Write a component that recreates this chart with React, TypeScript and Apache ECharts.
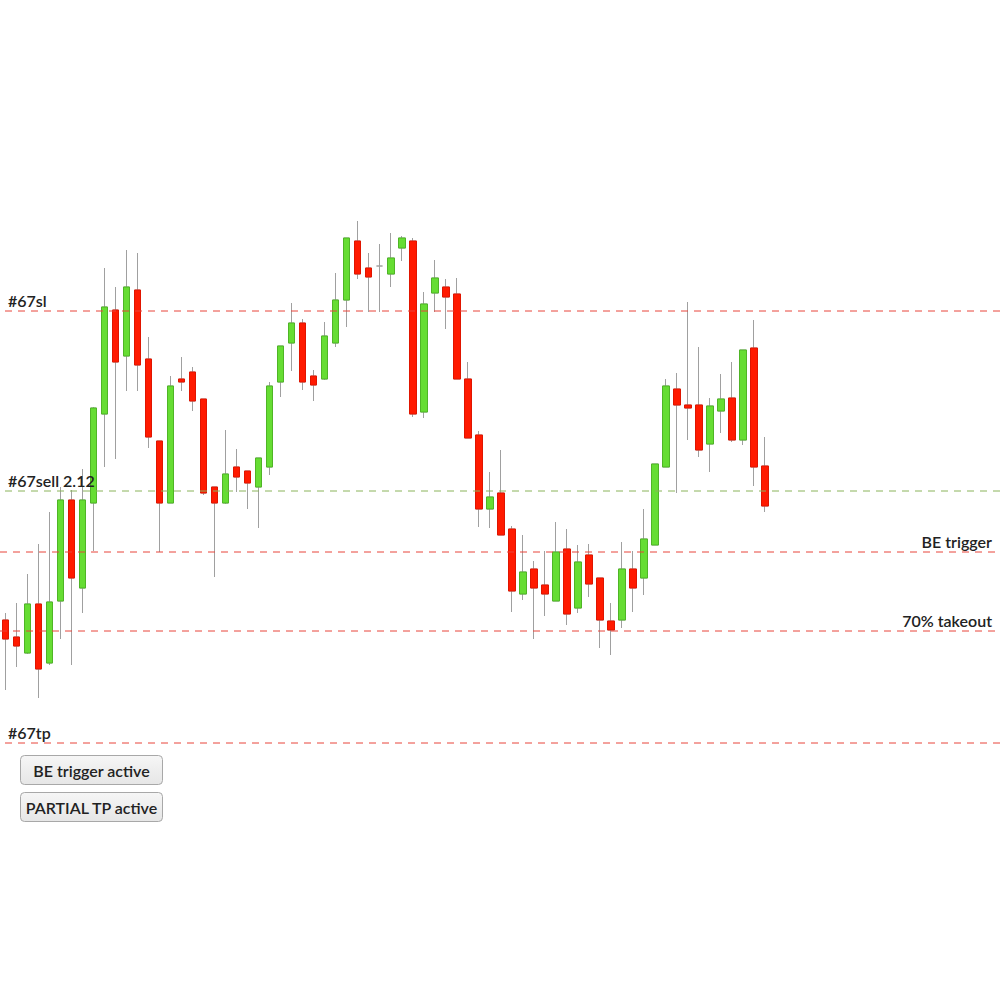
import React, { useEffect, useRef } from "react";
import * as echarts from "echarts";

// OHLC values (price units)
const opens = [
  1.991, 1.974, 1.958, 2.007, 1.948, 2.010, 2.111, 2.023, 2.108, 2.197,
  2.301, 2.255, 2.321, 2.252, 2.170, 2.108, 2.232, 2.239, 2.212, 2.124,
  2.108, 2.144, 2.140, 2.124, 2.144, 2.229, 2.268, 2.288, 2.235, 2.232,
  2.268, 2.311, 2.370, 2.343, 2.345, 2.337, 2.363, 2.370, 2.199, 2.318,
  2.324, 2.317, 2.232, 2.176, 2.102, 2.118, 2.082, 2.017, 2.042, 2.026,
  2.010, 2.062, 2.003, 2.056, 2.033, 1.990, 1.991, 2.042, 2.033, 2.066,
  2.144, 2.222, 2.206, 2.206, 2.167, 2.200, 2.213, 2.171, 2.263, 2.145,
];
const closes = [
  1.972, 1.965, 2.007, 1.942, 2.009, 2.111, 2.033, 2.111, 2.203, 2.304,
  2.249, 2.324, 2.246, 2.174, 2.108, 2.225, 2.229, 2.210, 2.118, 2.108,
  2.137, 2.134, 2.128, 2.153, 2.225, 2.265, 2.288, 2.229, 2.226, 2.275,
  2.311, 2.373, 2.337, 2.334, 2.345, 2.353, 2.373, 2.197, 2.307, 2.333,
  2.314, 2.232, 2.173, 2.102, 2.114, 2.076, 2.020, 2.039, 2.023, 2.017,
  2.059, 1.997, 2.049, 2.027, 1.991, 1.981, 2.042, 2.023, 2.072, 2.147,
  2.225, 2.206, 2.203, 2.161, 2.205, 2.212, 2.171, 2.261, 2.144, 2.105,
];
const lows = [
  1.921, 1.944, 1.957, 1.913, 1.946, 1.972, 1.946, 1.998, 2.060, 2.144,
  2.152, 2.220, 2.220, 2.163, 2.059, 2.108, 2.220, 2.200, 2.116, 2.034,
  2.107, 2.119, 2.102, 2.083, 2.136, 2.214, 2.240, 2.221, 2.210, 2.231,
  2.264, 2.284, 2.332, 2.299, 2.299, 2.324, 2.350, 2.194, 2.193, 2.299,
  2.282, 2.232, 2.173, 2.084, 2.083, 2.076, 1.999, 2.011, 1.972, 1.995,
  2.010, 1.986, 1.998, 2.014, 1.963, 1.956, 1.983, 1.999, 2.016, 2.066,
  2.144, 2.118, 2.171, 2.154, 2.139, 2.178, 2.169, 2.166, 2.125, 2.099,
];
const highs = [
  1.998, 2.008, 2.037, 2.067, 2.099, 2.124, 2.121, 2.142, 2.204, 2.343,
  2.324, 2.361, 2.358, 2.274, 2.170, 2.235, 2.254, 2.244, 2.212, 2.124,
  2.181, 2.162, 2.140, 2.153, 2.229, 2.265, 2.308, 2.292, 2.241, 2.289,
  2.338, 2.373, 2.390, 2.358, 2.367, 2.378, 2.375, 2.373, 2.319, 2.351,
  2.332, 2.333, 2.249, 2.180, 2.139, 2.161, 2.085, 2.076, 2.050, 2.060,
  2.089, 2.082, 2.066, 2.067, 2.033, 2.008, 2.069, 2.060, 2.102, 2.147,
  2.232, 2.238, 2.309, 2.264, 2.213, 2.237, 2.249, 2.261, 2.291, 2.174,
];

// Order levels
const levelNames = ["#67sl", "#67sell 2.12", "BE trigger", "70% takeout", "#67tp"];
const levelValues = [2.3, 2.12, 2.059, 1.98, 1.868];
const levelSides = ["start", "start", "end", "end", "start"];
const levelKinds = ["stop", "entry", "stop", "stop", "stop"];

const buttonLabels = ["BE trigger active", "PARTIAL TP active"];

const Y_MIN = 1.611;
const Y_MAX = 2.611;

export default function App() {
  const ref = useRef<HTMLDivElement>(null);

  useEffect(() => {
    if (!ref.current) return;
    const chart = echarts.init(ref.current, null, { renderer: "svg" });
    const categories = opens.map((_, i) => String(i + 1));
    const fullData = opens.map((o, i) => [o, closes[i], lows[i], highs[i]]);
    const bodyData = opens.map((o, i) =>
      o === closes[i]
        ? "-"
        : [o, closes[i], Math.min(o, closes[i]), Math.max(o, closes[i])]
    );

    const font = "Lato, 'Noto Sans', sans-serif";
    const colorFor = (kind: string) => (kind === "entry" ? "#8ab35a" : "#e8443a");

    // dashed level lines spanning the full-width grid; the caption sits at the
    // line's last point, so left-captioned lines are listed right-to-left
    const levelLineSeries = levelValues.map((v, i) => {
      const atStart = levelSides[i] === "start";
      const color = colorFor(levelKinds[i]);
      return {
        type: "line",
        xAxisIndex: 1,
        yAxisIndex: 1,
        data: atStart
          ? [
              [1, v],
              [0, v],
            ]
          : [
              [0, v],
              [1, v],
            ],
        symbol: "none",
        silent: true,
        z: 5,
        color,
        itemStyle: { color },
        lineStyle: { color, type: [7, 6], width: 1 },
        endLabel: {
          show: true,
          formatter: levelNames[i],
          distance: 0,
          align: atStart ? "left" : "right",
          verticalAlign: "bottom",
          offset: atStart ? [8, -3] : [-8, -3],
          color: "#222",
          fontSize: 16,
          fontWeight: 600,
          fontFamily: font,
        },
      };
    });

    const buttons = buttonLabels.map((txt, i) => ({
      type: "group",
      left: 20,
      top: 755 + i * 37,
      children: [
        {
          type: "rect",
          shape: { x: 0.5, y: 0.5, width: 142, height: 29, r: 4 },
          style: {
            fill: new echarts.graphic.LinearGradient(0, 0, 0, 1, [
              { offset: 0, color: "#f6f6f6" },
              { offset: 1, color: "#e6e6e6" },
            ]),
            stroke: "#a8a8a8",
            lineWidth: 1,
          },
        },
        {
          type: "text",
          x: 71.5,
          y: 15.5,
          style: {
            text: txt,
            fill: "#222",
            font: `600 16px ${font}`,
            align: "center",
            verticalAlign: "middle",
          },
        },
      ],
    }));

    chart.setOption({
      animation: false,
      backgroundColor: "#ffffff",
      grid: [
        { left: -2.5, width: 773, top: 0, height: 1000 },
        { left: 0, right: 0, top: 0, height: 1000 },
      ],
      xAxis: [
        { type: "category", data: categories, gridIndex: 0, show: false, boundaryGap: true },
        { type: "value", gridIndex: 1, min: 0, max: 1, show: false },
      ],
      yAxis: [
        { type: "value", gridIndex: 0, min: Y_MIN, max: Y_MAX, show: false, scale: true },
        { type: "value", gridIndex: 1, min: Y_MIN, max: Y_MAX, show: false, scale: true },
      ],
      series: [
        {
          type: "candlestick",
          xAxisIndex: 0,
          yAxisIndex: 0,
          data: fullData,
          barWidth: 7,
          itemStyle: {
            color: "#a0a0a0",
            color0: "#a0a0a0",
            borderColor: "#a0a0a0",
            borderColor0: "#a0a0a0",
            borderWidth: 1,
          },
          z: 2,
        },
        {
          type: "candlestick",
          xAxisIndex: 0,
          yAxisIndex: 0,
          data: bodyData,
          barWidth: 7,
          itemStyle: {
            color: "#66dd33",
            color0: "#ff1a00",
            borderColor: "#4fb526",
            borderColor0: "#e01500",
            borderWidth: 1,
          },
          z: 3,
        },
        ...levelLineSeries,
      ],
      graphic: buttons,
    });

    return () => chart.dispose();
  }, []);

  return (
    <div
      ref={ref}
      style={{ position: "absolute", left: 0, top: 0, width: 1000, height: 1000 }}
    />
  );
}
